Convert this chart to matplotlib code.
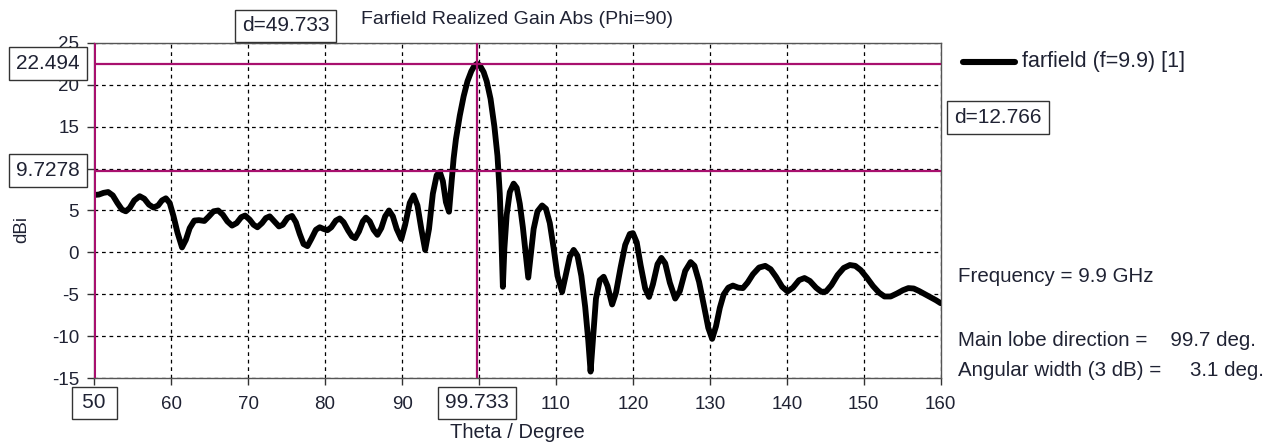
import numpy as np
import matplotlib.pyplot as plt
import matplotlib.transforms as mtransforms

plt.rcParams['font.family'] = ['Liberation Sans', 'DejaVu Sans']
plt.rcParams['axes.unicode_minus'] = False

# farfield cut, phi = 90
theta = [50.0, 50.6, 51.2, 51.8, 52.4, 53.0, 53.6, 54.1, 54.6, 55.2, 55.9, 56.5,
         57.1, 57.7, 58.3, 58.8, 59.3, 59.8, 60.3, 60.8, 61.4, 61.9, 62.4, 63.0,
         63.6, 64.3, 64.9, 65.5, 66.1, 66.7, 67.3, 67.9, 68.5, 69.1, 69.6, 70.2,
         70.7, 71.2, 71.8, 72.3, 72.8, 73.4, 74.0, 74.5, 75.1, 75.7, 76.2, 76.7,
         77.2, 77.7, 78.2, 78.8, 79.3, 79.8, 80.3, 80.8, 81.4, 81.9, 82.4, 83.0,
         83.5, 83.9, 84.4, 84.9, 85.3, 85.8, 86.3, 86.8, 87.3, 87.8, 88.3, 88.8,
         89.3, 89.9, 90.4, 91.0, 91.5, 92.0, 92.5, 93.0, 93.5, 94.0, 94.5, 94.9,
         95.3, 95.7, 96.1, 96.4, 96.7, 97.0, 97.5, 98.0, 98.5, 99.0, 99.4, 99.733,
         100.1, 100.6, 101.0, 101.5, 102.0, 102.4, 102.7, 102.9, 103.1, 103.3,
         103.6, 104.0, 104.5, 104.9, 105.3, 105.7, 106.1, 106.4, 106.7, 107.1,
         107.6, 108.2, 108.7, 109.2, 109.7, 110.2, 110.8, 111.3, 111.8, 112.3,
         112.8, 113.3, 113.8, 114.2, 114.5, 114.8, 115.2, 115.7, 116.2, 116.7,
         117.3, 117.8, 118.4, 119.0, 119.6, 120.0, 120.5, 121.0, 121.6, 122.1,
         122.6, 123.2, 123.7, 124.2, 124.8, 125.5, 126.1, 126.8, 127.5, 128.0,
         128.6, 129.2, 129.8, 130.3, 130.8, 131.3, 131.8, 132.4, 133.0, 133.7,
         134.3, 134.9, 135.6, 136.4, 137.2, 137.9, 138.6, 139.4, 140.1, 140.8,
         141.6, 142.3, 143.0, 143.8, 144.5, 145.1, 145.8, 146.6, 147.4, 148.2,
         148.9, 149.6, 150.4, 151.2, 152.0, 152.7, 153.5, 154.3, 155.1, 155.8,
         156.5, 157.2, 158.0, 158.8, 159.4, 160.0]
gain = [6.85, 6.9, 7.1, 7.2, 6.8, 5.9, 5.1, 4.9, 5.3, 6.2, 6.7, 6.4,
        5.7, 5.35, 5.6, 6.2, 6.45, 5.9, 4.3, 2.4, 0.6, 1.5, 2.9, 3.8,
        3.85, 3.75, 4.3, 4.9, 5.0, 4.5, 3.7, 3.2, 3.5, 4.2, 4.4, 3.9,
        3.3, 3.0, 3.5, 4.1, 4.3, 3.7, 3.1, 3.3, 4.1, 4.35, 3.6, 2.2,
        1.0, 0.75, 1.6, 2.7, 3.0, 2.8, 2.65, 3.0, 3.8, 4.05, 3.6, 2.6,
        1.9, 1.7, 2.5, 3.7, 4.15, 3.7, 2.7, 2.1, 2.9, 4.3, 5.0, 4.3,
        2.8, 1.6, 3.3, 5.9, 6.8, 5.6, 2.8, 0.3, 2.8, 7.0, 9.2, 9.6,
        8.5, 6.0, 4.85, 8.0, 11.2, 13.5, 16.3, 18.6, 20.4, 21.6, 22.25, 22.494,
        22.3, 21.5, 20.4, 18.3, 15.0, 11.5, 7.0, 2.0, -4.1, 0.5,
        4.5, 7.2, 8.2, 7.7, 5.8, 3.0, -0.5, -3.0, -0.5, 2.8,
        4.9, 5.6, 5.2, 3.5, 0.5, -2.8, -4.7, -2.6, -0.5, 0.3,
        -0.4, -2.8, -6.5, -10.5, -14.2, -10.5, -5.5, -3.3, -2.9, -4.0,
        -6.2, -4.8, -1.8, 0.9, 2.2, 2.3, 1.2, -1.5, -4.3, -5.3,
        -3.8, -1.4, -0.65, -1.3, -3.6, -5.5, -4.6, -2.2, -1.15, -1.6,
        -3.5, -6.2, -9.0, -10.3, -8.8, -6.6, -5.0, -4.2, -3.95, -4.2,
        -4.25, -3.6, -2.6, -1.8, -1.6, -2.0, -2.9, -4.1, -4.65, -4.2,
        -3.3, -3.05, -3.4, -4.2, -4.7, -4.65, -3.9, -2.7, -1.85, -1.5,
        -1.6, -2.1, -3.0, -4.0, -4.8, -5.25, -5.25, -4.9, -4.5, -4.25,
        -4.3, -4.6, -5.0, -5.4, -5.7, -6.05]

x_ticks = list(range(50, 161, 10))
y_ticks = list(range(-15, 26, 5))

# marker positions
x_start = 50
x_peak = 99.733
y_peak = 22.494
y_level = 9.7278

freq = 9.9
main_dir = 99.7
width_3db = 3.1

mag = '#a8106e'
txt = '#1f2233'
box = dict(boxstyle='square,pad=0.33', fc='white', ec='#333333', lw=1.0)

fig = plt.figure(figsize=(12.76, 4.45), dpi=100)
ax = fig.add_axes([0.0739, 0.1499, 0.6633, 0.7542])

ax.plot(theta, gain, color='black', lw=4.2, solid_joinstyle='round',
        solid_capstyle='round', zorder=3)

ax.set_xlim(50, 160)
ax.set_ylim(-15, 25)
ax.set_xticks(x_ticks)
ax.set_xticklabels(['' if t in (50, 100) else str(t) for t in x_ticks])
ax.set_yticks(y_ticks)
# the 10 label sits under the marker box
ax.set_yticklabels(['' if t == 10 else str(t) for t in y_ticks])
ax.grid(True, color='black', linestyle=(0, (3, 3)), linewidth=0.9, zorder=1)
ax.tick_params(direction='out', length=5, width=1, color='#333333',
               labelsize=13.5, labelcolor=txt)
ax.tick_params(axis='x', pad=8)
ax.tick_params(axis='y', pad=6)
for s in ax.spines.values():
    s.set_color('#555555')
    s.set_linewidth(1.0)

# markers
ax.axvline(x_start, color=mag, lw=2.2, zorder=4)
ax.axvline(x_peak, color=mag, lw=1.6, zorder=4)
ax.axhline(y_peak, color=mag, lw=1.6, zorder=4)
ax.axhline(y_level, color=mag, lw=1.6, zorder=4)

ax_y = mtransforms.blended_transform_factory(ax.transAxes, ax.transData)
data_ax = mtransforms.blended_transform_factory(ax.transData, ax.transAxes)

ax.text(-0.0547, y_peak, f'{y_peak:g}', transform=ax_y, ha='center', va='center',
        fontsize=15, color=txt, bbox=box, zorder=6, clip_on=False)
ax.text(-0.0547, y_level, f'{y_level:g}', transform=ax_y, ha='center', va='center',
        fontsize=15, color=txt, bbox=box, zorder=6, clip_on=False)
ax.text(x_start, -0.0736, f'\u2009{x_start:g}\u2009', transform=data_ax, ha='center',
        va='center', fontsize=15, color=txt, bbox=box, zorder=6, clip_on=False)
ax.text(x_peak, -0.0736, f'{x_peak:g}', transform=data_ax, ha='center', va='center',
        fontsize=15, color=txt, bbox=box, zorder=6, clip_on=False)
ax.text((x_start + x_peak) / 2, 1.0498, f'd={x_peak - x_start:.3f}', transform=data_ax,
        ha='center', va='center', fontsize=15, color=txt, bbox=box, zorder=6, clip_on=False)
ax.text(1.0677, (y_peak + y_level) / 2, f'd={y_peak - y_level:.3f}', transform=ax_y,
        ha='center', va='center', fontsize=15, color=txt, bbox=box, zorder=6, clip_on=False)

fig.text(0.405, 0.956, 'Farfield Realized Gain Abs (Phi=90)', ha='center', va='center',
         fontsize=14, color=txt)
fig.text(0.4055, 0.029, 'Theta / Degree', ha='center', va='center', fontsize=14.5, color=txt)
fig.text(0.0172, 0.485, 'dBi', rotation=90, ha='center', va='center', fontsize=13.5, color=txt)

# legend drawn by hand at the right of the plot
fig.add_artist(plt.Line2D([963 / 1276, 1015 / 1276], [1 - 62 / 445, 1 - 62 / 445],
                          color='black', lw=4.4, solid_capstyle='round'))
fig.text(1022 / 1276, 1 - 62 / 445, f'farfield (f={freq:g}) [1]', ha='left', va='center',
         fontsize=15.5, color=txt)

fig.text(958 / 1276, 1 - 277 / 445, f'Frequency = {freq:g} GHz', ha='left', va='center',
         fontsize=14.8, color=txt)
fig.text(958 / 1276, 1 - 340 / 445, f'Main lobe direction =    {main_dir:g} deg.', ha='left',
         va='center', fontsize=14.8, color=txt)
fig.text(958 / 1276, 1 - 370 / 445, f'Angular width (3 dB) =     {width_3db:g} deg.', ha='left',
         va='center', fontsize=14.8, color=txt)

fig.savefig('out.png', dpi=100, facecolor='white')
